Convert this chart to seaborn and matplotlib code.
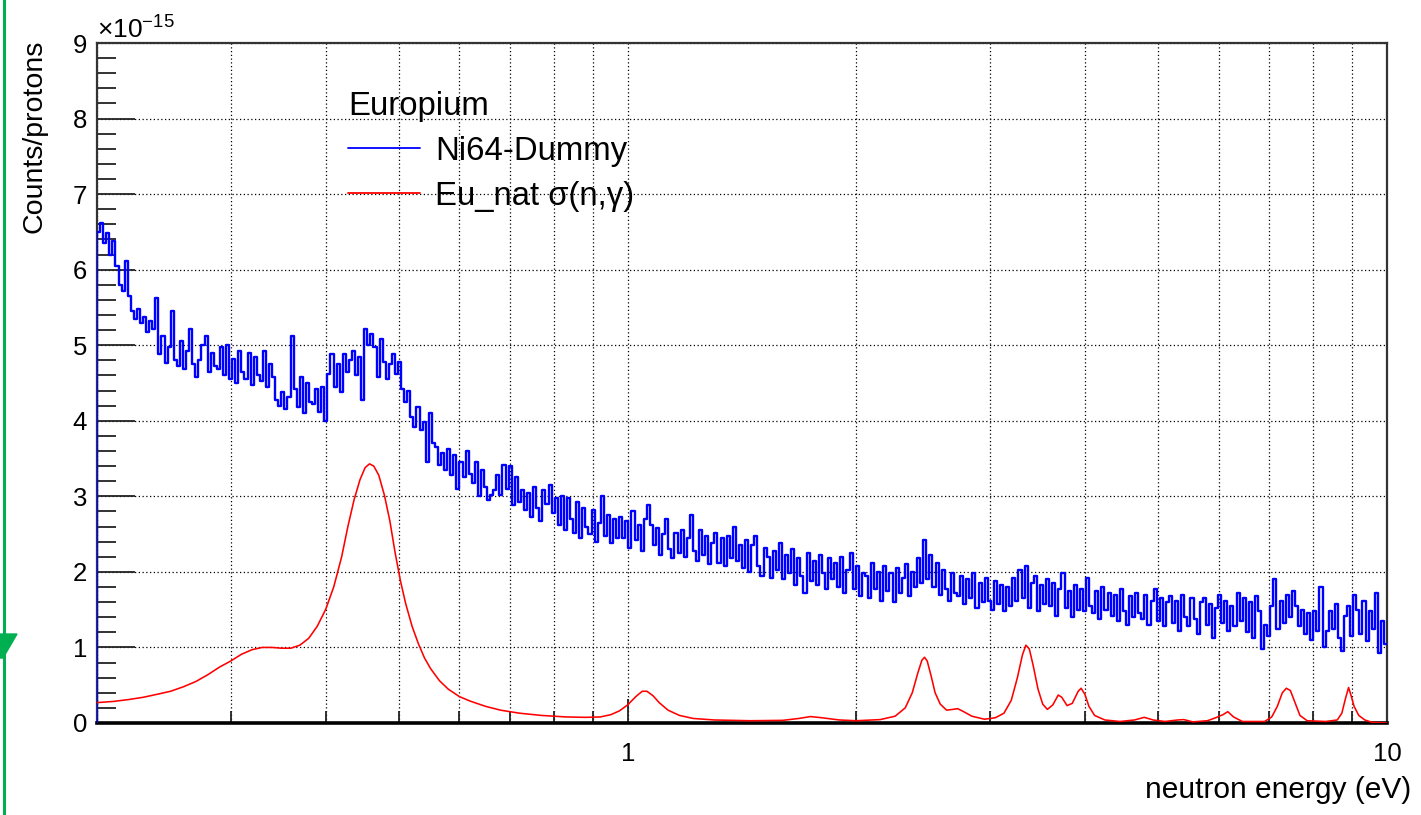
import numpy as np
import pandas as pd
import matplotlib
matplotlib.use("Agg")
import matplotlib.pyplot as plt
from matplotlib import ticker
from matplotlib.lines import Line2D
from matplotlib.patches import Polygon
import seaborn as sns

# ---------------------------------------------------------------- data
E_MIN, E_MAX = 0.2, 10.0          # neutron energy range (eV)
SCALE = 1e-15                      # counts/protons unit of the lists below

# Ni64 dummy spectrum, log-spaced bins between E_MIN and E_MAX (x 1e-15)
ni64_dummy = [
    6.50, 6.62, 6.35, 6.48, 6.20, 6.38, 6.05, 5.80, 5.72, 6.12,
    5.65, 5.45, 5.35, 5.48, 5.30, 5.38, 5.18, 5.32, 5.22, 5.62,
    4.88, 5.12, 4.76, 4.98, 5.45, 4.80, 4.72, 5.05, 4.68, 4.92,
    5.22, 4.75, 4.58, 4.80, 5.00, 5.12, 4.65, 4.90, 4.72, 4.68,
    4.98, 4.60, 5.00, 4.55, 4.82, 4.50, 4.92, 4.65, 4.55, 4.90,
    4.48, 4.85, 4.60, 4.52, 4.92, 4.45, 4.75, 4.58, 4.28, 4.20,
    4.38, 4.15, 4.32, 5.12, 4.42, 4.18, 4.58, 4.10, 4.50, 4.25,
    4.22, 4.42, 4.12, 4.45, 4.00, 4.62, 4.88, 4.45, 4.75, 4.38,
    4.88, 4.65, 4.80, 4.92, 4.60, 4.85, 4.28, 5.22, 5.00, 5.15,
    4.98, 4.58, 5.08, 4.78, 4.55, 4.75, 4.88, 4.62, 4.78, 4.42,
    4.25, 4.40, 4.05, 3.92, 4.18, 3.88, 3.98, 3.45, 4.10, 3.70,
    3.65, 3.42, 3.58, 3.35, 3.62, 3.28, 3.55, 3.10, 3.45, 3.25,
    3.60, 3.30, 3.18, 3.45, 3.00, 3.35, 3.12, 2.95, 3.02, 3.08,
    3.28, 3.02, 3.42, 3.10, 3.40, 2.88, 3.25, 2.92, 3.08, 2.82,
    3.05, 2.72, 3.12, 2.85, 2.68, 3.08, 2.90, 3.15, 2.78, 2.98,
    2.62, 3.00, 2.55, 2.98, 2.70, 2.52, 2.92, 2.45, 2.85, 2.60,
    2.50, 2.82, 2.40, 2.65, 3.00, 2.48, 2.75, 2.38, 2.70, 2.45,
    2.72, 2.45, 2.68, 2.32, 2.80, 2.42, 2.62, 2.28, 2.70, 2.88,
    2.62, 2.35, 2.58, 2.22, 2.50, 2.70, 2.30, 2.18, 2.52, 2.25,
    2.55, 2.20, 2.45, 2.75, 2.28, 2.15, 2.55, 2.22, 2.48, 2.10,
    2.38, 2.52, 2.12, 2.45, 2.08, 2.48, 2.18, 2.60, 2.15, 2.35,
    2.05, 2.42, 2.00, 2.35, 2.48, 2.08, 1.95, 2.32, 2.20, 1.92,
    2.28, 2.02, 2.38, 1.90, 2.22, 1.98, 2.30, 1.82, 2.18, 1.95,
    1.72, 2.25, 1.88, 2.15, 1.82, 2.22, 1.98, 1.78, 2.18, 1.90,
    2.12, 1.80, 2.20, 1.72, 2.02, 2.25, 1.78, 2.08, 1.68, 1.98,
    1.95, 1.65, 2.12, 1.78, 2.00, 1.62, 2.08, 1.75, 1.98, 1.60,
    2.05, 1.72, 1.92, 2.10, 1.68, 2.00, 1.80, 2.18, 1.85, 2.42,
    1.90, 2.22, 1.80, 2.12, 1.70, 2.02, 1.78, 1.62, 1.98, 1.72,
    1.68, 1.95, 1.58, 1.90, 1.65, 1.98, 1.52, 1.85, 1.60, 1.92,
    1.62, 1.50, 1.88, 1.58, 1.82, 1.48, 1.80, 1.55, 1.92, 1.62,
    2.02, 1.65, 2.08, 1.52, 1.85, 1.95, 1.48, 1.82, 1.58, 1.90,
    1.55, 1.85, 1.42, 1.78, 1.98, 1.52, 1.75, 1.40, 1.82, 1.50,
    1.78, 1.48, 1.92, 1.55, 1.45, 1.75, 1.38, 1.80, 1.50, 1.72,
    1.42, 1.70, 1.35, 1.78, 1.48, 1.30, 1.68, 1.40, 1.72, 1.45,
    1.38, 1.70, 1.30, 1.62, 1.78, 1.35, 1.65, 1.28, 1.60, 1.68,
    1.32, 1.62, 1.22, 1.70, 1.40, 1.28, 1.65, 1.38, 1.18, 1.60,
    1.65, 1.30, 1.58, 1.12, 1.52, 1.70, 1.32, 1.62, 1.22, 1.55,
    1.28, 1.72, 1.35, 1.65, 1.20, 1.60, 1.12, 1.68, 1.48, 0.98,
    1.30, 1.15, 1.55, 1.90, 1.25, 1.62, 1.32, 1.70, 1.40, 1.75,
    1.55, 1.28, 1.50, 1.18, 1.45, 1.10, 1.48, 1.22, 1.80, 1.00,
    1.22, 1.48, 1.25, 1.58, 1.12, 0.95, 1.42, 1.55, 1.15, 1.70,
    1.50, 1.18, 1.62, 1.08, 1.48, 1.25, 1.72, 0.92, 1.35, 1.05,
]

# Eu_nat capture cross section, scaled onto the same axis (x 1e-15)
eu_energy = [
    0.200, 0.210, 0.220, 0.230, 0.240, 0.250, 0.260, 0.270, 0.280, 0.290,
    0.300, 0.310, 0.320, 0.330, 0.340, 0.350, 0.360, 0.370, 0.380, 0.390,
    0.400, 0.410, 0.420, 0.428, 0.436, 0.444, 0.451, 0.457, 0.463, 0.470,
    0.478, 0.486, 0.494, 0.502, 0.510, 0.520, 0.530, 0.540, 0.550, 0.565,
    0.580, 0.600, 0.620, 0.650, 0.680, 0.720, 0.770, 0.830, 0.880, 0.920,
    0.950, 0.975, 1.000, 1.025, 1.045, 1.060, 1.080, 1.100, 1.130, 1.170,
    1.220, 1.300, 1.450, 1.600, 1.680, 1.740, 1.800, 1.900, 2.000, 2.150,
    2.250, 2.320, 2.370, 2.410, 2.440, 2.460, 2.480, 2.510, 2.540, 2.580,
    2.630, 2.680, 2.720, 2.770, 2.840, 2.950, 3.050, 3.130, 3.200, 3.260,
    3.310, 3.345, 3.380, 3.420, 3.470, 3.520, 3.570, 3.630, 3.690, 3.730,
    3.790, 3.850, 3.920, 3.955, 4.000, 4.050, 4.120, 4.250, 4.450, 4.650,
    4.790, 4.920, 5.100, 5.300, 5.400, 5.550, 5.800, 5.950, 6.080, 6.170,
    6.280, 6.450, 6.900, 7.050, 7.170, 7.280, 7.370, 7.460, 7.560, 7.680,
    7.850, 8.300, 8.600, 8.720, 8.820, 8.900, 8.970, 9.050, 9.180, 9.350,
    9.550, 10.00,
]
eu_sigma = [
    0.27, 0.285, 0.31, 0.34, 0.38, 0.42, 0.48, 0.55, 0.64, 0.74,
    0.82, 0.91, 0.97, 1.00, 1.00, 0.99, 0.99, 1.03, 1.12, 1.28,
    1.50, 1.80, 2.20, 2.60, 2.95, 3.22, 3.38, 3.43, 3.40, 3.28,
    3.02, 2.68, 2.25, 1.88, 1.58, 1.28, 1.05, 0.86, 0.72, 0.56,
    0.45, 0.35, 0.29, 0.22, 0.17, 0.13, 0.10, 0.08, 0.075, 0.08,
    0.11, 0.16, 0.24, 0.35, 0.42, 0.42, 0.36, 0.27, 0.17, 0.10,
    0.06, 0.04, 0.03, 0.035, 0.06, 0.085, 0.07, 0.04, 0.03, 0.045,
    0.09, 0.20, 0.40, 0.66, 0.83, 0.87, 0.82, 0.62, 0.40, 0.25,
    0.17, 0.18, 0.19, 0.15, 0.09, 0.05, 0.07, 0.13, 0.30, 0.60,
    0.90, 1.03, 0.98, 0.76, 0.45, 0.25, 0.18, 0.24, 0.37, 0.34,
    0.23, 0.26, 0.42, 0.46, 0.38, 0.22, 0.10, 0.04, 0.02, 0.04,
    0.075, 0.04, 0.02, 0.04, 0.045, 0.015, 0.03, 0.07, 0.11, 0.15,
    0.08, 0.02, 0.02, 0.08, 0.22, 0.40, 0.46, 0.43, 0.28, 0.10,
    0.03, 0.02, 0.04, 0.13, 0.33, 0.47, 0.36, 0.22, 0.10, 0.04,
    0.01, 0.00,
]

x_tick_values = [1, 10]
legend_title = "Europium"
label_ni64 = "Ni64-Dummy"
label_eu = "Eu_nat σ(n,γ)"

# ---------------------------------------------------------------- style
sns.set_style("ticks")
plt.rcParams["font.family"] = ["Liberation Sans", "DejaVu Sans"]
plt.rcParams["mathtext.fontset"] = "custom"
plt.rcParams["mathtext.rm"] = "Liberation Sans"
plt.rcParams["mathtext.it"] = "Liberation Sans:italic"
for key in ["text.color", "axes.labelcolor", "xtick.labelcolor", "ytick.labelcolor"]:
    plt.rcParams[key] = "black"

W, H = 1421, 815
fig = plt.figure(figsize=(W / 100, H / 100), dpi=100)
ax_l, ax_r, ax_t, ax_b = 97, 1387, 43, 723
ax = fig.add_axes([ax_l / W, 1 - ax_b / H, (ax_r - ax_l) / W, (ax_b - ax_t) / H])

# histogram outline: rises from the zero line at the first bin edge
values = np.asarray(ni64_dummy)
edges = np.geomspace(E_MIN, E_MAX, len(values) + 1)
hist_df = pd.DataFrame({
    "energy": np.repeat(edges, 2)[:-1],
    "counts": np.concatenate([[0.0], np.repeat(values, 2)]) * SCALE,
})
eu_df = pd.DataFrame({"energy": eu_energy, "counts": np.asarray(eu_sigma) * SCALE})

sns.lineplot(data=hist_df, x="energy", y="counts", sort=False, estimator=None,
             color="#0000ff", linewidth=1.7, label=label_ni64, ax=ax, zorder=3)
sns.lineplot(data=eu_df, x="energy", y="counts", sort=False, estimator=None,
             color="#ff0000", linewidth=1.15, label=label_eu, ax=ax, zorder=3)

ax.set_xscale("log")
ax.set_xlim(E_MIN, E_MAX)
ax.set_ylim(0, 9 * SCALE)

# axes ticks
ax.xaxis.set_major_locator(ticker.FixedLocator(x_tick_values))
ax.xaxis.set_major_formatter(ticker.FixedFormatter([str(v) for v in x_tick_values]))
ax.xaxis.set_minor_locator(ticker.LogLocator(base=10, subs=np.arange(2, 10)))
ax.xaxis.set_minor_formatter(ticker.NullFormatter())
ax.yaxis.set_major_locator(ticker.MultipleLocator(1 * SCALE))
ax.yaxis.set_minor_locator(ticker.MultipleLocator(0.2 * SCALE))
yfmt = ticker.ScalarFormatter(useMathText=True)
yfmt.set_powerlimits((0, 0))
ax.yaxis.set_major_formatter(yfmt)

ax.tick_params(axis="y", which="major", direction="in", length=27, width=1.3,
               labelsize=18.5, pad=7, color="#222222")
ax.tick_params(axis="y", which="minor", direction="in", length=13.5, width=1.3,
               color="#222222")
ax.tick_params(axis="x", which="major", direction="in", length=17, width=1.3,
               labelsize=18.5, pad=14, color="#222222")
ax.tick_params(axis="x", which="minor", direction="in", length=8.5, width=1.3,
               color="#222222")
ax.yaxis.get_offset_text().set_fontsize(19)

# dotted grid
grid_kw = dict(color="black", linestyle=(0, (1, 2)), linewidth=0.9)
ax.grid(True, axis="y", which="major", **grid_kw)
ax.grid(True, axis="x", which="both", **grid_kw)

for side in ["left", "top", "right"]:
    ax.spines[side].set_linewidth(1.6)
    ax.spines[side].set_color("#333333")
ax.spines["bottom"].set_linewidth(2.6)
ax.spines["bottom"].set_color("black")

# axis titles
ax.set_xlabel("neutron energy (eV)", fontsize=21.5, loc="right")
ax.xaxis.set_label_coords((1411 - ax_l) / (ax_r - ax_l), (ax_b - 790) / (ax_b - ax_t))
ax.xaxis.label.set_verticalalignment("center")
ax.set_ylabel("Counts/protons", fontsize=20.5, loc="top")
ax.yaxis.set_label_coords((48 - ax_l) / (ax_r - ax_l), (ax_b - 40) / (ax_b - ax_t))

# legend
leg = ax.legend(title=legend_title, loc="upper left",
                bbox_to_anchor=((348 - ax_l) / (ax_r - ax_l), (ax_b - 91) / (ax_b - ax_t)),
                frameon=False, fontsize=23.7, title_fontsize=23.7, alignment="left",
                handlelength=2.2, handletextpad=0.45, labelspacing=0.42,
                borderpad=0, borderaxespad=0)
for line in leg.get_lines():
    line.set_linewidth(1.3)

# page marker at the left edge
fig.add_artist(Line2D([4 / W, 4 / W], [0, 1], color="#00b050", linewidth=2.2,
                      transform=fig.transFigure))
fig.add_artist(Polygon([(0, 1 - 634 / H), (17 / W, 1 - 634 / H), (3 / W, 1 - 658 / H),
                        (0, 1 - 658 / H)], closed=True, color="#00b050",
                       transform=fig.transFigure))

fig.savefig("out.png", dpi=100)
